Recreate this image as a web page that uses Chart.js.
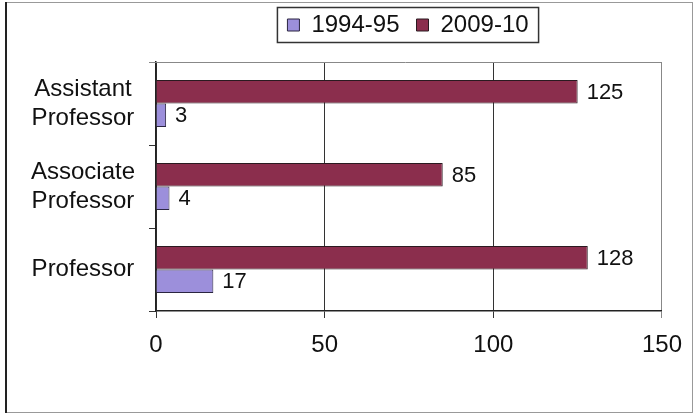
<!DOCTYPE html>
<html>
<head>
<meta charset="utf-8">
<script src="https://cdn.jsdelivr.net/npm/chart.js@4.4.1/dist/chart.umd.min.js"></script>
<style>
    html, body { margin: 0; padding: 0; background: #fff; }
    #wrap { width: 695px; height: 417px; position: relative; }
</style>
</head>
<body>
<div id="wrap"><canvas id="chart"></canvas></div>
<script>
const categories = [['Assistant', 'Professor'], ['Associate', 'Professor'], 'Professor'];
const values1994 = [3, 4, 17];
const values2009 = [125, 85, 128];
const xTicks = [0, 50, 100, 150];

const FONT = '"Liberation Sans", Arial, sans-serif';

// frame around the whole picture + top border of the plot
const framePlugin = {
    id: 'frame',
    afterLayout(chart) {
        // legend sits right of centre in the original
        const lg = chart.legend;
        lg.left += 73;
        lg.right += 73;
        lg.top -= 4;
        lg.bottom -= 4;
    },
    beforeDraw(chart) {
        const ctx = chart.ctx;
        ctx.save();
        ctx.fillStyle = '#fff';
        ctx.fillRect(0, 0, chart.width, chart.height);
        ctx.strokeStyle = '#999';
        ctx.lineWidth = 1;
        ctx.strokeRect(5.5, 2.5, 687, 410);
        ctx.strokeStyle = '#222';
        ctx.lineWidth = 2;
        ctx.beginPath();
        ctx.moveTo(6, 2);
        ctx.lineTo(6, 413);
        ctx.stroke();
        ctx.restore();
    },
    afterDraw(chart) {
        const ctx = chart.ctx;
        const area = chart.chartArea;
        ctx.save();
        ctx.strokeStyle = '#888';
        ctx.lineWidth = 1;
        ctx.beginPath();
        ctx.moveTo(area.left - 7, Math.round(area.top) + 0.5);
        ctx.lineTo(area.right, Math.round(area.top) + 0.5);
        ctx.stroke();

        // box round the legend
        const boxes = chart.legend.legendHitBoxes;
        if (boxes && boxes.length) {
            const left = Math.min(...boxes.map(b => b.left));
            const right = Math.max(...boxes.map(b => b.left + b.width));
            ctx.strokeStyle = '#333';
            ctx.lineWidth = 1.5;
            ctx.strokeRect(left - 10, 7.5, right - left + 20, 35);
        }
        ctx.restore();
    }
};

// value labels at the end of each bar
const valueLabels = {
    id: 'valueLabels',
    afterDatasetsDraw(chart) {
        const ctx = chart.ctx;
        ctx.save();
        ctx.font = '22px ' + FONT;
        ctx.fillStyle = '#111';
        ctx.textAlign = 'left';
        ctx.textBaseline = 'middle';
        chart.data.datasets.forEach((ds, i) => {
            chart.getDatasetMeta(i).data.forEach((bar, j) => {
                ctx.fillText(ds.data[j], bar.x + 9, bar.y + 1);
            });
        });
        ctx.restore();
    }
};

new Chart(document.getElementById('chart'), {
    type: 'bar',
    data: {
        labels: categories,
        datasets: [
            {
                label: '2009-10',
                data: values2009,
                backgroundColor: '#8B2E4D',
                borderColor: '#2a1a20',
                borderWidth: 1
            },
            {
                label: '1994-95',
                data: values1994,
                backgroundColor: '#9C8FDB',
                borderColor: '#2a2540',
                borderWidth: 1
            }
        ]
    },
    options: {
        indexAxis: 'y',
        responsive: true,
        maintainAspectRatio: false,
        animation: false,
        layout: { padding: { left: 8, right: 33, top: 0, bottom: 0 } },
        datasets: {
            bar: { categoryPercentage: 0.566, barPercentage: 1 }
        },
        scales: {
            x: {
                type: 'linear',
                min: 0,
                max: 150,
                afterBuildTicks: (scale) => {
                    scale.ticks = xTicks.map(v => ({ value: v }));
                },
                afterFit: (scale) => { scale.height = 106; },
                grid: {
                    color: (c) => (c.tick && c.tick.value === 150 ? '#888' : '#333'),
                    lineWidth: 1,
                    tickLength: 7
                },
                border: { color: '#222', width: 1.5 },
                ticks: {
                    font: { family: FONT, size: 24 },
                    color: '#111',
                    padding: 13
                }
            },
            y: {
                afterFit: (scale) => { scale.width = 148; },
                grid: {
                    drawOnChartArea: false,
                    color: '#333',
                    tickLength: 7
                },
                border: { color: '#222', width: 1.5 },
                ticks: {
                    font: { family: FONT, size: 24 },
                    color: '#111',
                    crossAlign: 'center',
                    padding: 14
                }
            },
            spacer: {
                type: 'linear',
                position: 'top',
                display: true,
                afterFit: (scale) => { scale.height = 11; },
                grid: { display: false },
                border: { display: false },
                ticks: { display: false }
            }
        },
        plugins: {
            legend: {
                position: 'top',
                reverse: true,
                labels: {
                    font: { family: FONT, size: 24 },
                    color: '#111',
                    boxWidth: 12,
                    boxHeight: 12,
                    padding: 17
                }
            },
            tooltip: { enabled: false }
        }
    },
    plugins: [framePlugin, valueLabels]
});
</script>
</body>
</html>
